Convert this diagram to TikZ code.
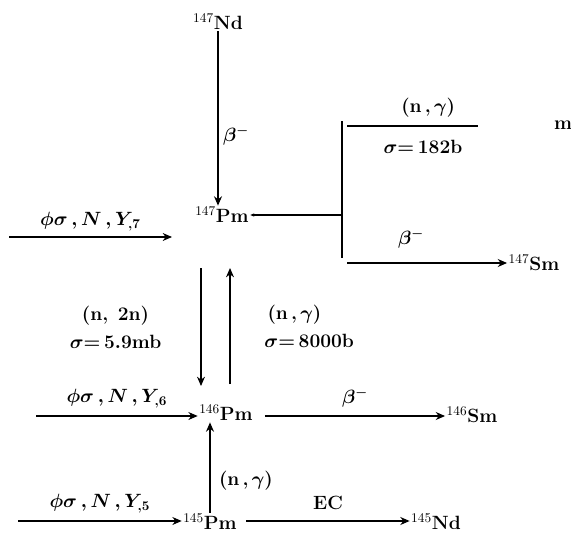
\documentclass[tikz,border=0pt]{standalone}
\usetikzlibrary{arrows.meta}
\begin{document}
\begin{tikzpicture}[x=0.75pt,y=-0.75pt,
    nuc/.style={font=\Large\bfseries,inner sep=1pt},
    lbl/.style={font=\Large\bfseries\boldmath},
    flow/.style={-{Stealth[length=7pt,width=6pt]},line width=0.9pt},
    bare/.style={line width=0.9pt}]
        \useasboundingbox(0,0)rectangle(571,535);
        % nuclides
        \node[nuc](Nd147)at(218,22){$^{147}$Nd};
        \node[nuc](Pm147)at(222,215){$^{147}$Pm};
        \node[nuc](Sm147)at(534,263){$^{147}$Sm};
        \node[nuc](Pm146)at(226,413){$^{146}$Pm};
        \node[nuc](Sm146)at(472,415){$^{146}$Sm};
        \node[nuc](Pm145)at(210,522){$^{145}$Pm};
        \node[nuc](Nd145)at(436,522){$^{145}$Nd};
        \node[nuc](mm)at(563,125){m};
        % free ends
        \coordinate(in7)at(9,237);
        \coordinate(in7e)at(172,237);
        \coordinate(bart)at(342,121);
        \coordinate(barb)at(342,258);
        \coordinate(ng1)at(347,126);
        \coordinate(ng2)at(478,126);
        \coordinate(bt1)at(347,263);
        \coordinate(n2a)at(201,268);
        \coordinate(n2b)at(201,386);
        \coordinate(nga)at(230,384);
        \coordinate(ngb)at(230,268);
        \coordinate(in6)at(36,416);
        \coordinate(in5)at(18,521);
        % branch of 147Pm
        \draw[flow](Nd147)--(Nd147|-Pm147.north)node[pos=0.6,right,lbl]{$\beta^-$};
        \draw[flow](in7)--(in7e)node[midway,above=1pt,lbl]{$\phi\sigma\,,N\,,Y_{,7}$};
        \draw[bare,{Stealth[length=3pt,width=2.5pt]}-](Pm147.east)--(Pm147.east-|bart);
        \draw[bare](bart)--(barb);
        \draw[bare](ng1)--(ng2)node[pos=0.62,above=3pt,lbl]{(n\,,\,$\gamma$)}
            node[pos=0.58,below=7pt,lbl]{$\sigma{=}\,182$b};
        \draw[flow](bt1)--(Sm147.west|-bt1)node[pos=0.4,above=7pt,lbl]{$\beta^-$};
        % between 147Pm and 146Pm
        \draw[flow](n2a)--(n2b)node[midway,left=26pt,align=center,lbl]{(n,\enspace 2n)\\[3pt]$\sigma{=}\,5.9$mb};
        \draw[flow](nga)--(ngb)node[midway,right=22pt,align=left,lbl]{\,(n\,,\,$\gamma$)\\[3pt]$\sigma{=}\,8000$b};
        % branch of 146Pm
        \draw[flow](in6)--(Pm146.west|-in6)node[midway,above=2pt,lbl]{$\phi\sigma\,,N\,,Y_{,6}$};
        \draw[flow]([xshift=8pt]Pm146.east|-in6)--(Sm146.west|-in6)node[midway,above=3pt,lbl]{$\beta^-$};
        % branch of 145Pm
        \draw[flow](Pm145.north)--(Pm145.north|-Pm146.south)node[pos=0.35,right=3pt,lbl]{(n\,,\,$\gamma$)};
        \draw[flow](in5)--(Pm145.west|-in5)node[midway,above=2pt,lbl]{$\phi\sigma\,,N\,,Y_{,5}$};
        \draw[flow]([xshift=6pt]Pm145.east|-in5)--(Nd145.west|-in5)node[midway,above=5pt,lbl]{EC};
    \end{tikzpicture}
\end{document}
